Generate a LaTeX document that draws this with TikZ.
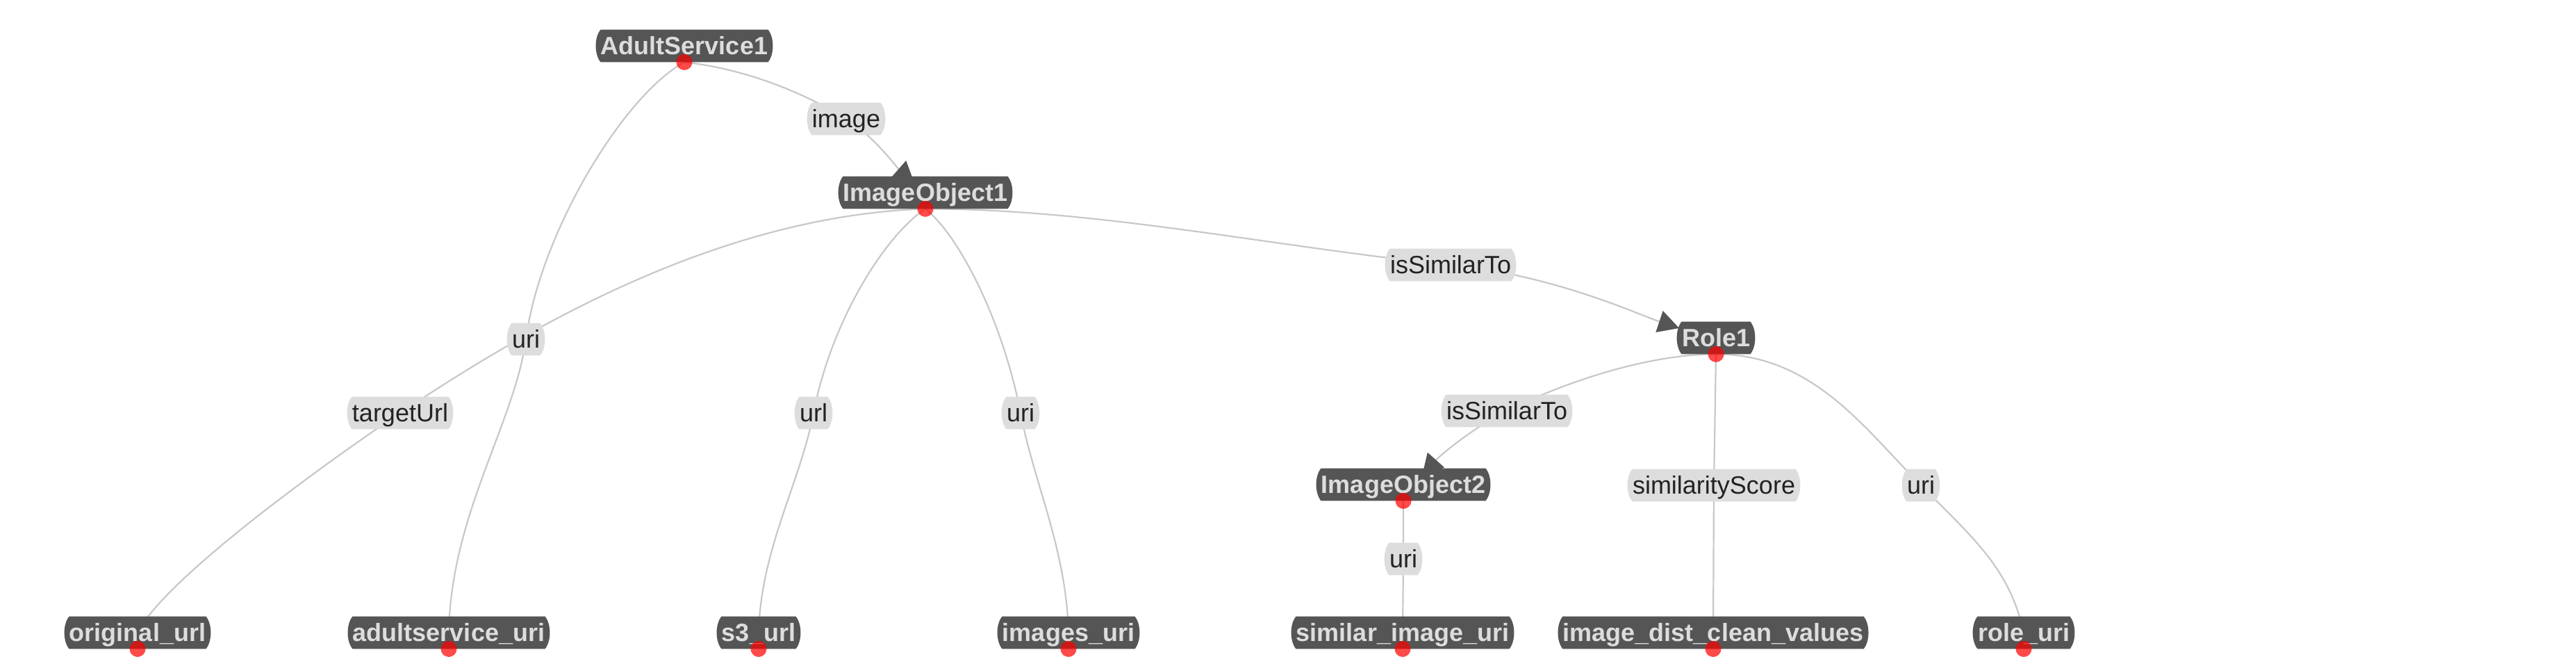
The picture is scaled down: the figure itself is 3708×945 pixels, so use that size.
\documentclass[tikz,border=0pt]{standalone}
\usepackage{fontspec}
\setmainfont{Liberation Sans}
\usetikzlibrary{arrows.meta}
\definecolor{nodegray}{HTML}{555555}
\definecolor{nodetext}{HTML}{DDDDDD}
\definecolor{lblfill}{HTML}{DDDDDD}
\definecolor{lbltext}{HTML}{222222}
\definecolor{edgegray}{HTML}{C8C8C8}
\definecolor{dotred}{HTML}{FF0000}
\pgfdeclarelayer{back}
\pgfdeclarelayer{edges}
\pgfdeclarelayer{boxes}
\pgfsetlayers{back,edges,boxes,main}
\begin{document}
\begin{tikzpicture}[x=0.5pt,y=-0.5pt,
  ent/.style={rectangle, text=nodetext,
    font=\fontsize{18}{20}\selectfont\bfseries, inner xsep=0pt, inner ysep=0pt,
    minimum height=23pt, text height=12.9pt, text depth=0pt},
  lbl/.style={rectangle, text=lbltext,
    font=\fontsize{18}{20}\selectfont, inner xsep=0pt, inner ysep=0pt,
    minimum height=23pt, text height=12.9pt, text depth=0pt},
  link/.style={draw=edgegray, line width=1.1pt},
  arr/.style={link, -{Triangle[length=15pt,width=16pt,color=nodegray]}},
  dot/.style={fill=dotred, fill opacity=0.71}]

\begin{pgfonlayer}{back}
\fill[white] (0,0) rectangle (3708,945);
\end{pgfonlayer}
\useasboundingbox (0,0) rectangle (3708,945);

% entity nodes
\node[ent] (AS1) at (985,66) {AdultService1};
\node[ent] (IO1) at (1332,277) {ImageObject1};
\node[ent] (R1) at (2470,486) {Role1};
\node[ent] (IO2) at (2020,697) {ImageObject2};
\node[ent] (ou) at (198,910) {original\_url};
\node[ent] (asu) at (646,910) {adultservice\_uri};
\node[ent] (s3) at (1092,910) {s3\_url};
\node[ent] (imu) at (1538,910) {images\_uri};
\node[ent] (siu) at (2019,910) {similar\_image\_uri};
\node[ent] (idcv) at (2466,910) {image\_dist\_clean\_values};
\node[ent] (ru) at (2913,910) {role\_uri};

% edge labels
\node[lbl] (lImage) at (1218,171) {image};
\node[lbl] (lSim1) at (2088,381) {isSimilarTo};
\node[lbl] (lUriA) at (757,488) {uri};
\node[lbl] (lTarget) at (576,594) {targetUrl};
\node[lbl] (lUrl) at (1171,594) {url};
\node[lbl] (lUriB) at (1469,594) {uri};
\node[lbl] (lSim2) at (2169,591) {isSimilarTo};
\node[lbl] (lScore) at (2467,698) {similarityScore};
\node[lbl] (lUriC) at (2765,698) {uri};
\node[lbl] (lUriD) at (2020,804) {uri};

% box shapes with bulging sides
\begin{pgfonlayer}{boxes}
\foreach \n in {AS1,IO1,R1,IO2,ou,asu,s3,imu,siu,idcv,ru}
  \fill[nodegray] (\n.north west) -- (\n.north east)
    .. controls +(9.3,11) and +(9.3,-11) .. (\n.south east) -- (\n.south west)
    .. controls +(-9.3,-11) and +(-9.3,11) .. (\n.north west) -- cycle;
\foreach \n in {lImage,lSim1,lUriA,lTarget,lUrl,lUriB,lSim2,lScore,lUriC,lUriD}
  \fill[lblfill] (\n.north west) -- (\n.north east)
    .. controls +(9.3,11) and +(9.3,-11) .. (\n.south east) -- (\n.south west)
    .. controls +(-9.3,-11) and +(-9.3,11) .. (\n.north west) -- cycle;
\end{pgfonlayer}

\begin{pgfonlayer}{edges}
\draw[arr] (AS1.south) .. controls +(90,10) and +(-60,-37) .. (lImage.center)
  .. controls +(40,25) and +(-25,-22) .. ([shift={(-16,-14)}]IO1.center);
\draw[link] (AS1.south) .. controls +(-90,50) and +(20,-150) .. (lUriA.center)
  .. controls +(-16,120) and +(3,-170) .. (asu.center);
\draw[link] (IO1.south) .. controls +(-300,10) and +(180,-120) .. (lTarget.center)
  .. controls +(-90,60) and +(40,-80) .. (ou.center);
\draw[link] (IO1.south) .. controls +(-60,40) and +(25,-130) .. (lUrl.center)
  .. controls +(-19,100) and +(3,-120) .. (s3.center);
\draw[link] (IO1.south) .. controls +(50,40) and +(-25,-130) .. (lUriB.center)
  .. controls +(19,100) and +(-3,-120) .. (imu.center);
\draw[arr] (IO1.south) .. controls +(250,0) and +(-250,-25) .. (lSim1.center)
  .. controls +(150,15) and +(-60,-20) .. ([shift={(-53,-14)}]R1.center);
\draw[arr] (R1.south) .. controls +(-100,0) and +(80,-40) .. (lSim2.center)
  .. controls +(-50,25) and +(25,-28) .. ([shift={(27,-13)}]IO2.center);
\draw[link] (R1.south) -- (lScore.center) -- (idcv.center);
\draw[link] (R1.south) .. controls +(140,0) and +(-80,-80) .. (lUriC.center)
  .. controls +(80,80) and +(-20,-90) .. (ru.center);
\draw[link] (IO2.south) -- (lUriD.center) -- (siu.center);
\end{pgfonlayer}

% anchor dots
\foreach \n in {AS1,IO1,R1,IO2,ou,asu,s3,imu,siu,idcv,ru}
  \fill[dot] (\n.south) circle (5.75pt);
\end{tikzpicture}
\end{document}
